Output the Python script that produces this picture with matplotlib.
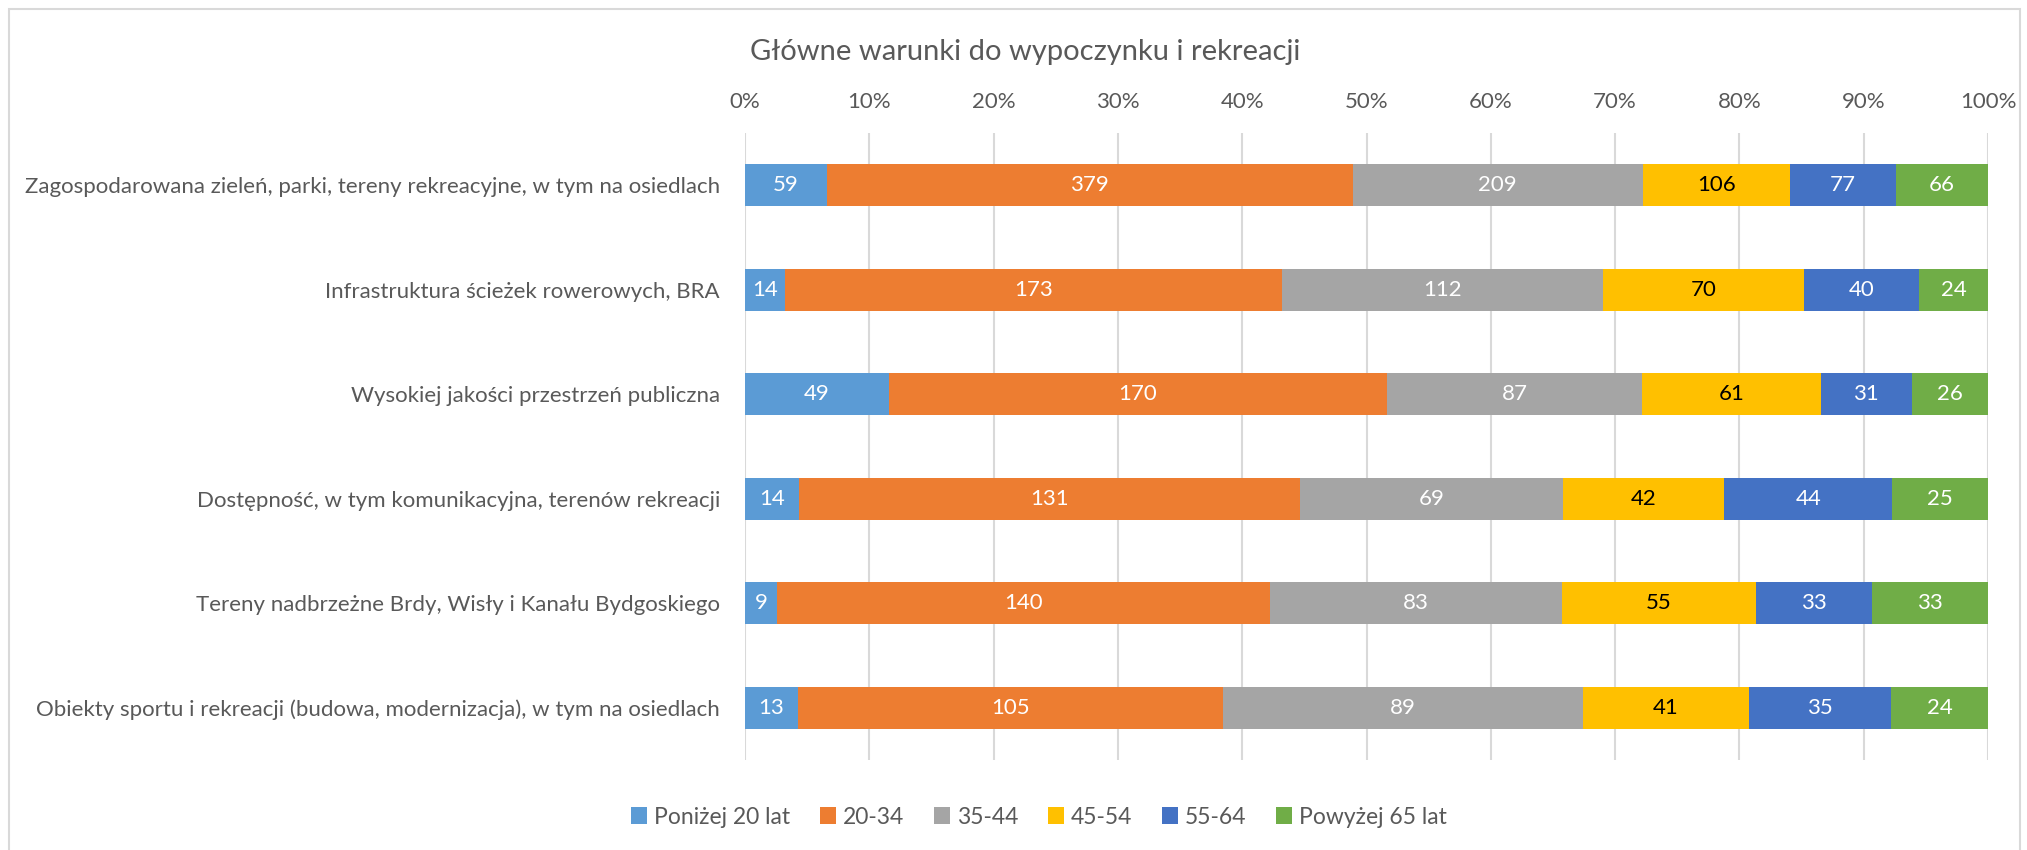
import matplotlib.pyplot as plt
import numpy as np
from matplotlib.patches import Patch, Rectangle

plt.rcParams['font.family'] = ['Lato', 'DejaVu Sans']

TITLE = "Główne warunki do wypoczynku i rekreacji"

CATEGORIES = [
    "Zagospodarowana zieleń, parki, tereny rekreacyjne, w tym na osiedlach",
    "Infrastruktura ścieżek rowerowych, BRA",
    "Wysokiej jakości przestrzeń publiczna",
    "Dostępność, w tym komunikacyjna, terenów rekreacji",
    "Tereny nadbrzeżne Brdy, Wisły i Kanału Bydgoskiego",
    "Obiekty sportu i rekreacji (budowa, modernizacja), w tym na osiedlach",
]

SERIES = ["Poniżej 20 lat", "20-34", "35-44", "45-54", "55-64", "Powyżej 65 lat"]

UNDER_20 = [59, 14, 49, 14, 9, 13]
AGE_20_34 = [379, 173, 170, 131, 140, 105]
AGE_35_44 = [209, 112, 87, 69, 83, 89]
AGE_45_54 = [106, 70, 61, 42, 55, 41]
AGE_55_64 = [77, 40, 31, 44, 33, 35]
OVER_65 = [66, 24, 26, 25, 33, 24]

TICKS = [0, 10, 20, 30, 40, 50, 60, 70, 80, 90, 100]

COLORS = ["#5B9BD5", "#ED7D31", "#A5A5A5", "#FFC000", "#4472C4", "#70AD47"]
LABEL_COLORS = ["white", "white", "white", "black", "white", "white"]
TEXT_GRAY = "#595959"
GRID_GRAY = "#D9D9D9"

W, H = 2027, 850
fig = plt.figure(figsize=(W / 100, H / 100), dpi=100)
ax = fig.add_axes([745 / W, 1 - 760 / H, (1988 - 745) / W, (760 - 133) / H])

counts = np.array([UNDER_20, AGE_20_34, AGE_35_44, AGE_45_54, AGE_55_64, OVER_65], dtype=float)
shares = counts / counts.sum(axis=0) * 100
y = np.arange(len(CATEGORIES))

left = np.zeros(len(CATEGORIES))
for i, name in enumerate(SERIES):
    bars = ax.barh(y, shares[i], left=left, height=0.4, color=COLORS[i], label=name, zorder=3)
    for j, b in enumerate(bars):
        ax.text(left[j] + shares[i][j] / 2, y[j], f"{int(counts[i][j])}", ha='center', va='center',
                color=LABEL_COLORS[i], fontsize=16, zorder=4)
    left += shares[i]

ax.set_xlim(0, 100)
ax.set_ylim(len(CATEGORIES) - 0.5, -0.5)
ax.set_xticks(TICKS)
ax.set_xticklabels([f"{t}%" for t in TICKS])
ax.xaxis.tick_top()
ax.tick_params(axis='x', length=0, pad=15, labelsize=16, labelcolor=TEXT_GRAY)
ax.set_yticks(y)
ax.set_yticklabels(CATEGORIES)
ax.tick_params(axis='y', length=0, pad=18, labelsize=16, labelcolor=TEXT_GRAY)
ax.grid(axis='x', color=GRID_GRAY, linewidth=1.5, zorder=0)
for s in ax.spines.values():
    s.set_visible(False)

fig.text(1025 / W, 1 - 52 / H, TITLE, ha='center', va='center', fontsize=21, color=TEXT_GRAY)

handles = [Patch(facecolor=c, label=s) for c, s in zip(COLORS, SERIES)]
fig.legend(handles=handles, loc='center', bbox_to_anchor=(1039 / W, 1 - 817 / H), ncol=6,
           frameon=False, fontsize=16.5, labelcolor=TEXT_GRAY, handlelength=0.7, handleheight=0.7,
           handletextpad=0.3, columnspacing=1.3)

# chart border
fig.patches.append(Rectangle((9 / W, -0.1), (2020 - 9) / W, 1.1 - 9 / H, transform=fig.transFigure,
                             fill=False, edgecolor=GRID_GRAY, linewidth=1.5))

fig.savefig("out.png", dpi=100)
